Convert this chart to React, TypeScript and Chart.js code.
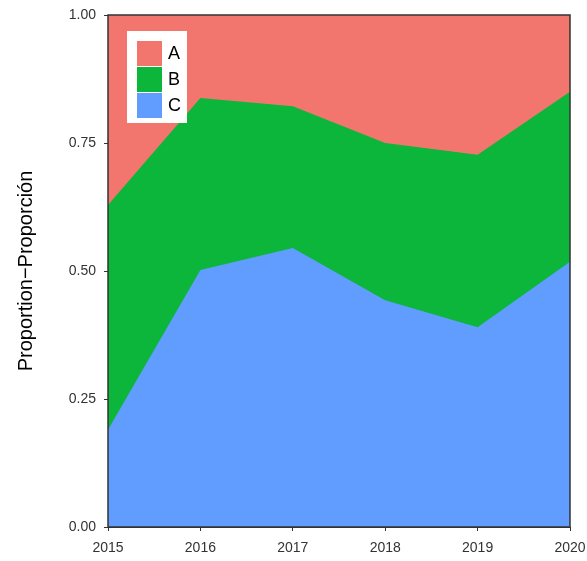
import React, { useRef, useEffect } from 'react';
import { Chart, ChartConfiguration } from 'chart.js/auto';

const years = [2015, 2016, 2017, 2018, 2019, 2020];
const seriesC = [0.19, 0.502, 0.545, 0.443, 0.39, 0.518];
const seriesB = [0.439, 0.336, 0.277, 0.307, 0.337, 0.332];
const seriesA = [0.371, 0.162, 0.178, 0.25, 0.273, 0.15];
const yTicks = [0, 0.25, 0.5, 0.75, 1];

const colA = '#F3766E';
const colB = '#0BB63A';
const colC = '#619CFF';
const fontFam = 'Arial, "Liberation Sans"';

const overlay = {
  id: 'overlay',
  afterDraw(chart: Chart) {
    const { ctx, chartArea: a } = chart;
    ctx.save();
    ctx.strokeStyle = '#333';
    ctx.lineWidth = 1.5;
    ctx.strokeRect(a.left, a.top, a.right - a.left, a.bottom - a.top);
    // legend
    const lx = a.left + 19, ly = a.top + 16;
    ctx.fillStyle = '#fff';
    ctx.fillRect(lx, ly, 60, 92);
    const items: [string, string][] = [['A', colA], ['B', colB], ['C', colC]];
    ctx.font = '18px ' + fontFam;
    ctx.textBaseline = 'middle';
    items.forEach(([t, c], i) => {
      const y = ly + 10 + i * 26;
      ctx.fillStyle = c;
      ctx.fillRect(lx + 10, y, 25, 25);
      ctx.fillStyle = '#000';
      ctx.fillText(t, lx + 41, y + 13);
    });
    ctx.restore();
  },
};

const App: React.FC = () => {
  const ref = useRef<HTMLCanvasElement | null>(null);
  useEffect(() => {
    if (!ref.current) return;
    const ds = (label: string, data: number[], color: string) => ({
      label,
      data: data.map((v, i) => ({ x: years[i], y: v })),
      backgroundColor: color,
      borderWidth: 0,
      pointRadius: 0,
      fill: true,
      tension: 0,
    });
    const tickGrid = { display: true, drawOnChartArea: false, tickLength: 4, color: '#333' };
    const config: ChartConfiguration = {
      type: 'line',
      data: { datasets: [ds('C', seriesC, colC), ds('B', seriesB, colB), ds('A', seriesA, colA)] as any },
      options: {
        animation: false,
        responsive: false,
        layout: { padding: { top: 15, right: 17, left: 10 } },
        plugins: { legend: { display: false }, tooltip: { enabled: false } },
        scales: {
          x: {
            type: 'linear',
            min: 2015,
            max: 2020,
            grid: tickGrid,
            border: { color: '#333' },
            ticks: {
              stepSize: 1,
              color: '#333',
              padding: 9,
              font: { size: 14, family: fontFam },
              callback: (v) => String(v),
            },
            afterFit: (s: any) => { s.height = 34; s.paddingRight = 0; s.paddingLeft = 0; },
          },
          y: {
            stacked: true,
            min: 0,
            max: 1,
            grid: tickGrid,
            border: { color: '#333' },
            afterBuildTicks: (s: any) => { s.ticks = yTicks.map((v) => ({ value: v })); },
            ticks: {
              color: '#333',
              padding: 8,
              font: { size: 14, family: fontFam },
              callback: (v) => Number(v).toFixed(2),
            },
            title: {
              display: true,
              text: 'Proportion−Proporción',
              color: '#000',
              font: { size: 20, family: fontFam },
            },
            afterFit: (s: any) => { s.width = 98; s.paddingTop = 0; s.paddingBottom = 0; },
          },
        },
      },
      plugins: [overlay],
    };
    const chart = new Chart(ref.current, config);
    return () => chart.destroy();
  }, []);
  return (
    <div style={{ position: 'absolute', left: 0, top: 0, width: 587, height: 561, background: '#fff' }}>
      <canvas ref={ref} width={587} height={561} />
    </div>
  );
};

export default App;
